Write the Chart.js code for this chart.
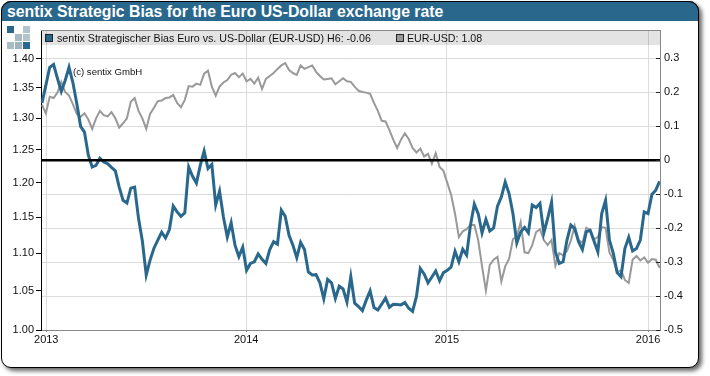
<!DOCTYPE html>
<html>
<head>
<meta charset="utf-8">
<title>sentix Strategic Bias</title>
<script src="https://cdn.jsdelivr.net/npm/chart.js@4"></script>
<style>
html, body { margin: 0; padding: 0; background: #fff; }
body { width: 710px; height: 376px; position: relative; overflow: hidden; font-family: "Liberation Sans", Arial, sans-serif; }
#card { position: absolute; left: 1px; top: 1px; width: 696px; height: 365px; border: 1px solid #000; border-radius: 10px; background: #fff; box-shadow: 3px 3px 4px #666; }
#title { position: absolute; left: 1px; top: 1px; width: 698px; height: 20px; background: #29688c; border-radius: 10px 10px 0 0; color: #fff; font-weight: bold; font-size: 15.8px; line-height: 20px; text-indent: 5px; white-space: nowrap; border: 1px solid #000; border-bottom: 0; box-sizing: border-box; }
#wrap { position: absolute; left: 0; top: 0; width: 710px; height: 376px; }
#strip { position: absolute; left: 42px; top: 31px; width: 618px; height: 14px; background: rgba(0,0,0,0.11); font-size: 10.67px; line-height: 14px; color: #111; white-space: nowrap; }
.swatch { position: absolute; top: 3px; width: 6px; height: 6px; border: 1px solid #222; }
.legtext { position: absolute; top: 0; }
#note { position: absolute; left: 73px; top: 66px; font-size: 9.6px; line-height: 12px; color: #111; }
.logo { position: absolute; width: 7px; height: 7px; }
</style>
</head>
<body>
<div id="card"></div>
<div id="title">sentix Strategic Bias for the Euro US-Dollar exchange rate</div>
<div id="logo"></div>
<div id="wrap"><canvas id="biasChart" width="710" height="376"></canvas></div>
<div id="strip">
  <span class="swatch" style="left:3px;background:#29688c"></span>
  <span class="legtext" style="left:15px">sentix Strategischer Bias Euro vs. US-Dollar (EUR-USD) H6: -0.06</span>
  <span class="swatch" style="left:354px;background:#999"></span>
  <span class="legtext" style="left:365px">EUR-USD: 1.08</span>
</div>
<div id="note">(c) sentix GmbH</div>
<script>
"use strict";

// weekly values
const biasValues = [
  0.169, 0.221, 0.274, 0.282, 0.241, 0.203, 0.235, 0.274, 0.229, 0.168,
  0.100, 0.083, 0.015, -0.020, -0.015, 0.006, -0.005, -0.010, -0.021, -0.031,
  -0.079, -0.118, -0.126, -0.082, -0.079, -0.171, -0.238, -0.338, -0.294, -0.259,
  -0.235, -0.212, -0.229, -0.204, -0.135, -0.152, -0.165, -0.155, -0.020, -0.047,
  -0.067, -0.015, 0.027, -0.024, -0.012, -0.132, -0.091, -0.167, -0.226, -0.184,
  -0.250, -0.284, -0.256, -0.324, -0.304, -0.299, -0.276, -0.292, -0.304, -0.263,
  -0.240, -0.247, -0.147, -0.165, -0.221, -0.250, -0.287, -0.242, -0.263, -0.329,
  -0.338, -0.337, -0.361, -0.408, -0.351, -0.361, -0.407, -0.371, -0.379, -0.418,
  -0.343, -0.421, -0.431, -0.443, -0.412, -0.385, -0.434, -0.441, -0.424, -0.406,
  -0.433, -0.424, -0.425, -0.426, -0.419, -0.436, -0.445, -0.402, -0.319, -0.335,
  -0.361, -0.344, -0.326, -0.355, -0.331, -0.324, -0.314, -0.268, -0.299, -0.262,
  -0.279, -0.191, -0.129, -0.157, -0.214, -0.174, -0.208, -0.199, -0.135, -0.108,
  -0.064, -0.098, -0.157, -0.243, -0.211, -0.198, -0.214, -0.132, -0.139, -0.127,
  -0.214, -0.171, -0.124, -0.270, -0.304, -0.299, -0.235, -0.191, -0.201, -0.240,
  -0.263, -0.211, -0.206, -0.238, -0.270, -0.157, -0.118, -0.235, -0.274, -0.331,
  -0.343, -0.260, -0.227, -0.267, -0.260, -0.235, -0.152, -0.157, -0.101, -0.088,
  -0.062
];
const eurUsdValues = [
  1.322, 1.308, 1.335, 1.333, 1.342, 1.360, 1.343, 1.337, 1.323, 1.307,
  1.302, 1.308, 1.298, 1.283, 1.300, 1.312, 1.305, 1.303, 1.310, 1.300,
  1.285, 1.292, 1.300, 1.327, 1.333, 1.312, 1.300, 1.283, 1.307, 1.317,
  1.328, 1.329, 1.333, 1.334, 1.338, 1.325, 1.318, 1.330, 1.353, 1.352,
  1.357, 1.355, 1.374, 1.379, 1.352, 1.337, 1.352, 1.359, 1.363, 1.372,
  1.375, 1.368, 1.374, 1.361, 1.365, 1.357, 1.367, 1.348, 1.365, 1.370,
  1.375, 1.382, 1.388, 1.392, 1.380, 1.375, 1.372, 1.388, 1.382, 1.385,
  1.388, 1.377, 1.370, 1.364, 1.365, 1.366, 1.356, 1.361, 1.366, 1.361,
  1.360, 1.352, 1.345, 1.343, 1.342, 1.340, 1.325, 1.312, 1.296, 1.295,
  1.281, 1.266, 1.253, 1.266, 1.276, 1.267, 1.253, 1.246, 1.252, 1.240,
  1.244, 1.229, 1.245, 1.224, 1.218, 1.200, 1.182, 1.155, 1.122, 1.130,
  1.133, 1.139, 1.139, 1.118, 1.082, 1.050, 1.084, 1.091, 1.095, 1.062,
  1.082, 1.092, 1.119, 1.123, 1.143, 1.101, 1.100, 1.111, 1.129, 1.133,
  1.118, 1.111, 1.118, 1.083, 1.100, 1.097, 1.103, 1.117, 1.138, 1.118,
  1.114, 1.135, 1.132, 1.119, 1.122, 1.136, 1.135, 1.101, 1.091, 1.074,
  1.077, 1.064, 1.060, 1.091, 1.096, 1.090, 1.094, 1.087, 1.092, 1.091,
  1.080
];

const yearLabels = ["2013", "2014", "2015", "2016"];
const yearWeeks = [1.1, 52.9, 104.9, 157];
const priceTicks = [1.00, 1.05, 1.10, 1.15, 1.20, 1.25, 1.30, 1.35, 1.40];
const biasTicks = [-0.5, -0.4, -0.3, -0.2, -0.1, 0, 0.1, 0.2, 0.3];
const zeroLine = [0, 0];

const BLUE = "#29688c";
const GREY = "#999999";
const GRID = "#dcdcdc";
const AXIS_FONT = { family: "'Liberation Sans', Arial, sans-serif", size: 11 };
const WEEK_MIN = -0.26;
const WEEK_MAX = 160.1;

// logo: small staircase of squares top left
[[7, 26, BLUE], [23, 26, "#b4c4cd"], [15, 34, "#a9b9c2"], [23, 34, "#b4c4cd"],
 [7, 42, "#a9bcc6"], [15, 42, "#9fb3bf"], [23, 42, BLUE]].forEach(sq => {
    const d = document.createElement("div");
    d.className = "logo";
    d.style.left = sq[0] + "px";
    d.style.top = sq[1] + "px";
    d.style.background = sq[2];
    document.getElementById("logo").appendChild(d);
});

function setTicks(values) {
    return scale => { scale.ticks = values.map(v => ({ value: v })); };
}

// top border and the short ticks inside the right axis
const frameExtras = {
    id: "frameExtras",
    afterDraw(chart) {
        const { ctx, chartArea } = chart;
        const right = chart.scales.yBias;
        ctx.save();
        ctx.strokeStyle = "#888";
        ctx.beginPath();
        ctx.moveTo(chartArea.left, chartArea.top + 0.5);
        ctx.lineTo(chartArea.right, chartArea.top + 0.5);
        ctx.stroke();
        ctx.strokeStyle = "#222";
        biasTicks.forEach(v => {
            const y = Math.round(right.getPixelForValue(v)) + 0.5;
            ctx.beginPath();
            ctx.moveTo(chartArea.right - 4, y);
            ctx.lineTo(chartArea.right, y);
            ctx.stroke();
        });
        ctx.restore();
    }
};

new Chart(document.getElementById("biasChart").getContext("2d"), {
    type: "line",
    data: {
        datasets: [
            {
                label: "zero",
                data: [{ x: WEEK_MIN, y: zeroLine[0] }, { x: WEEK_MAX, y: zeroLine[1] }],
                yAxisID: "yBias", borderColor: "#000", borderWidth: 2.4, pointRadius: 0, order: 0
            },
            {
                label: "sentix Strategischer Bias Euro vs. US-Dollar (EUR-USD) H6: -0.06",
                data: biasValues.map((v, i) => ({ x: i, y: v })),
                yAxisID: "yBias", borderColor: BLUE, borderWidth: 3, pointRadius: 0, tension: 0, order: 1
            },
            {
                label: "EUR-USD: 1.08",
                data: eurUsdValues.map((v, i) => ({ x: i, y: v })),
                yAxisID: "yPrice", borderColor: GREY, borderWidth: 2, pointRadius: 0, tension: 0, order: 2
            }
        ]
    },
    options: {
        responsive: false,
        animation: false,
        layout: { padding: { top: 30, left: 0, right: 0, bottom: 0 }, autoPadding: false },
        plugins: { legend: { display: false }, tooltip: { enabled: false }, title: { display: false } },
        scales: {
            x: {
                type: "linear",
                min: WEEK_MIN,
                max: WEEK_MAX,
                afterBuildTicks: setTicks(yearWeeks),
                afterFit(scale) { scale.height = 46; },
                border: { color: "#888" },
                grid: { color: GRID, tickColor: "#888", tickLength: 2 },
                ticks: {
                    autoSkip: false, maxRotation: 0, color: "#111", font: AXIS_FONT, padding: 1,
                    callback: (value, idx) => yearLabels[idx]
                }
            },
            yPrice: {
                type: "logarithmic",
                position: "left",
                min: 1.0,
                max: 1.4503,
                afterBuildTicks: setTicks(priceTicks),
                afterFit(scale) { scale.width = 41; },
                border: { color: "#000" },
                grid: { drawOnChartArea: false, tickColor: "#000", tickLength: 5 },
                ticks: {
                    autoSkip: false, color: "#111", font: AXIS_FONT, padding: 2,
                    callback: value => Number(value).toFixed(2)
                }
            },
            yBias: {
                type: "linear",
                position: "right",
                min: -0.5,
                max: 0.3838,
                afterBuildTicks: setTicks(biasTicks),
                afterFit(scale) { scale.width = 50; },
                border: { color: "#888" },
                grid: { color: GRID, drawTicks: false, tickLength: 0 },
                ticks: {
                    autoSkip: false, color: "#111", font: AXIS_FONT, padding: 4,
                    callback: value => value === 0 ? "0" : Number(value).toFixed(1)
                }
            }
        }
    },
    plugins: [frameExtras]
});
</script>
</body>
</html>
